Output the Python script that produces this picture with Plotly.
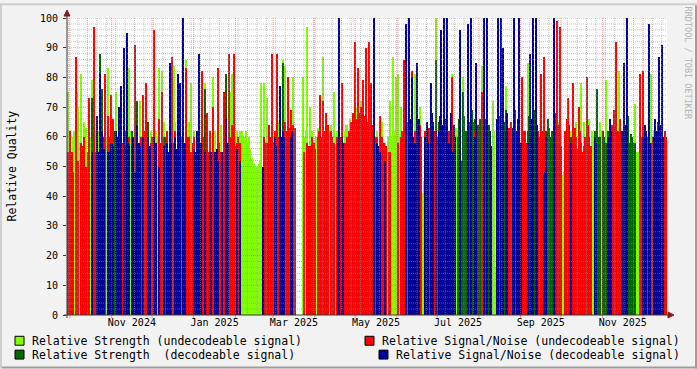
import pandas as pd
import plotly.graph_objects as go

# ---------------- data (daily values) ----------------
START = pd.Timestamp("2024-09-28 19:00")
END = pd.Timestamp("2025-12-18 21:00")
BIN_DAYS = 1

strength_undec = [
    75, 60, 48, 0, 60, 62, 0, 75, 70, 58, 81, 0, 65, 62, 63, 0, 64, 60, 79, 62,
    0, 62, 0, 62, 0, 0, 76, 0, 0, 60, 83, 0, 0, 0, 0, 0, 75, 0, 0, 0,
    0, 0, 0, 0, 67, 0, 83, 62, 0, 0, 0, 0, 0, 0, 72, 0, 0, 0, 62, 62,
    0, 0, 62, 0, 0, 0, 62, 60, 83, 0, 82, 0, 65, 0, 0, 0, 0, 0, 0, 84,
    65, 0, 0, 0, 67, 0, 0, 0, 86, 0, 65, 62, 78, 0, 62, 0, 0, 0, 64, 0,
    64, 0, 78, 60, 60, 0, 58, 0, 80, 62, 62, 0, 0, 0, 64, 0, 66, 0, 0, 0,
    0, 75, 81, 0, 0, 60, 62, 0, 62, 62, 62, 60, 60, 62, 58, 60, 56, 53, 50, 51,
    50, 50, 51, 52, 78, 0, 78, 0, 73, 0, 62, 0, 0, 60, 0, 0, 0, 65, 0, 0,
    86, 0, 84, 0, 66, 0, 0, 0, 80, 0, 0, 0, 0, 0, 0, 80, 60, 62, 97, 0,
    70, 60, 62, 0, 58, 60, 63, 0, 62, 0, 87, 0, 62, 0, 60, 62, 64, 0, 75, 60,
    62, 0, 0, 0, 0, 0, 62, 64, 64, 0, 66, 0, 68, 0, 0, 70, 80, 0, 72, 0,
    65, 0, 0, 66, 0, 70, 66, 0, 0, 0, 62, 0, 0, 0, 65, 0, 58, 0, 60, 58,
    72, 60, 87, 62, 80, 60, 81, 60, 70, 0, 65, 0, 0, 0, 0, 0, 0, 0, 81, 0,
    0, 0, 70, 0, 41, 45, 0, 0, 0, 0, 0, 0, 0, 0, 100, 0, 0, 0, 0, 0,
    0, 0, 0, 0, 60, 0, 81, 0, 62, 63, 62, 0, 0, 0, 80, 0, 0, 0, 0, 0,
    0, 0, 0, 0, 0, 0, 58, 0, 84, 0, 0, 0, 0, 0, 0, 0, 72, 62, 16, 0,
    0, 0, 0, 0, 0, 0, 77, 0, 60, 0, 0, 0, 0, 0, 0, 0, 0, 0, 80, 0,
    60, 0, 85, 0, 0, 0, 0, 0, 0, 0, 60, 0, 62, 0, 0, 0, 0, 0, 60, 0,
    0, 0, 0, 0, 0, 65, 0, 62, 47, 48, 60, 0, 0, 0, 62, 0, 62, 0, 65, 0,
    65, 0, 78, 0, 65, 0, 62, 0, 66, 0, 62, 60, 0, 0, 74, 0, 65, 62, 60, 0,
    79, 60, 0, 0, 0, 0, 62, 0, 0, 60, 82, 0, 0, 0, 0, 0, 0, 0, 0, 0,
    55, 0, 71, 55, 55, 52, 52, 0, 0, 0, 0, 0, 0, 0, 81, 0, 62, 0, 0, 0,
    79, 0, 0, 0, 55, 0,
]

strength_dec = [
    0, 0, 0, 0, 0, 0, 0, 0, 0, 0, 0, 0, 0, 0, 0, 0, 0, 0, 73, 60,
    0, 0, 60, 0, 88, 60, 76, 60, 0, 0, 0, 0, 0, 0, 60, 62, 60, 0, 62, 58,
    0, 0, 60, 62, 72, 60, 0, 0, 62, 0, 0, 0, 72, 0, 0, 0, 0, 0, 0, 0,
    65, 0, 0, 0, 0, 0, 0, 0, 0, 0, 0, 0, 60, 60, 0, 0, 83, 0, 0, 0,
    0, 0, 66, 0, 0, 0, 65, 0, 0, 0, 0, 0, 0, 0, 0, 0, 60, 0, 0, 0,
    0, 0, 76, 0, 0, 0, 0, 0, 0, 0, 0, 0, 0, 0, 0, 0, 0, 0, 81, 0,
    0, 0, 0, 0, 0, 0, 0, 0, 0, 0, 0, 0, 0, 0, 0, 0, 0, 0, 0, 0,
    0, 0, 0, 0, 0, 0, 0, 0, 0, 0, 0, 0, 0, 0, 0, 0, 0, 0, 62, 0,
    85, 0, 0, 0, 0, 0, 0, 0, 0, 0, 0, 0, 0, 0, 0, 0, 0, 0, 0, 0,
    0, 0, 0, 0, 0, 0, 0, 0, 0, 0, 0, 0, 0, 0, 0, 0, 0, 0, 0, 0,
    0, 0, 0, 0, 0, 0, 0, 0, 0, 0, 0, 0, 0, 0, 0, 0, 0, 0, 0, 0,
    0, 0, 0, 0, 0, 0, 0, 0, 0, 0, 0, 0, 0, 0, 0, 0, 0, 0, 0, 0,
    0, 0, 0, 0, 0, 0, 0, 0, 0, 0, 0, 0, 0, 0, 70, 0, 0, 0, 0, 0,
    65, 0, 0, 0, 0, 0, 0, 0, 0, 0, 0, 0, 0, 0, 86, 60, 65, 0, 0, 0,
    70, 0, 0, 0, 0, 0, 0, 0, 0, 0, 60, 66, 50, 52, 75, 67, 62, 58, 70, 65,
    84, 69, 65, 66, 0, 64, 62, 66, 65, 70, 65, 66, 60, 64, 58, 0, 0, 0, 0, 0,
    82, 67, 70, 64, 65, 65, 69, 0, 0, 0, 0, 0, 65, 69, 62, 0, 0, 0, 0, 0,
    0, 0, 62, 67, 63, 0, 65, 69, 62, 0, 0, 0, 0, 0, 0, 0, 62, 66, 63, 60,
    62, 62, 60, 68, 0, 0, 0, 0, 0, 0, 0, 0, 60, 64, 60, 58, 0, 0, 0, 0,
    0, 0, 0, 0, 0, 0, 0, 0, 0, 0, 0, 0, 62, 0, 76, 60, 60, 0, 62, 60,
    58, 0, 62, 0, 0, 0, 0, 0, 0, 0, 0, 0, 0, 0, 62, 0, 65, 67, 58, 61,
    60, 58, 58, 0, 0, 0, 0, 0, 0, 0, 0, 0, 0, 0, 0, 0, 0, 0, 60, 65,
    83, 0, 65, 0, 0, 0,
]

snr_undec = [
    55, 0, 62, 55, 48, 0, 87, 52, 52, 0, 58, 57, 60, 0, 50, 55, 73, 0, 0, 0,
    97, 55, 0, 0, 0, 0, 0, 0, 81, 0, 67, 60, 74, 0, 66, 0, 0, 0, 0, 0,
    55, 58, 0, 0, 0, 0, 60, 0, 50, 0, 91, 60, 55, 0, 52, 60, 74, 62, 78, 0,
    55, 0, 58, 60, 96, 0, 0, 0, 66, 58, 75, 60, 0, 0, 62, 0, 0, 0, 87, 58,
    62, 0, 0, 0, 63, 60, 0, 0, 83, 60, 60, 0, 55, 58, 60, 0, 0, 57, 0, 0,
    82, 60, 0, 0, 68, 55, 62, 0, 70, 0, 50, 0, 83, 58, 55, 0, 75, 60, 60, 0,
    88, 60, 64, 60, 88, 57, 58, 60, 58, 0, 0, 0, 0, 0, 0, 0, 0, 0, 0, 0,
    0, 0, 0, 0, 0, 0, 60, 58, 58, 57, 64, 60, 88, 58, 62, 0, 88, 60, 0, 0,
    0, 0, 65, 62, 80, 63, 69, 0, 64, 63, 0, 0, 0, 0, 0, 0, 55, 0, 58, 57,
    57, 0, 60, 58, 56, 0, 60, 62, 74, 60, 72, 62, 68, 60, 64, 0, 62, 60, 58, 0,
    60, 0, 0, 60, 78, 0, 58, 0, 60, 62, 62, 65, 68, 66, 92, 66, 83, 68, 70, 66,
    79, 67, 90, 65, 92, 66, 78, 64, 62, 60, 60, 0, 67, 60, 60, 58, 56, 57, 0, 55,
    55, 0, 0, 0, 0, 0, 58, 0, 60, 62, 86, 63, 88, 65, 0, 0, 82, 0, 62, 60,
    0, 0, 64, 60, 0, 0, 62, 0, 62, 63, 70, 0, 60, 62, 0, 0, 0, 0, 64, 0,
    0, 0, 80, 62, 62, 0, 80, 0, 0, 0, 0, 0, 0, 0, 0, 0, 0, 0, 0, 0,
    0, 0, 62, 0, 81, 0, 0, 0, 75, 0, 0, 0, 0, 0, 0, 0, 0, 0, 0, 0,
    0, 0, 0, 0, 0, 0, 0, 0, 63, 62, 65, 0, 0, 0, 0, 0, 60, 0, 80, 62,
    62, 58, 0, 0, 0, 0, 0, 0, 0, 0, 62, 60, 81, 62, 87, 0, 0, 0, 0, 0,
    0, 0, 0, 0, 99, 64, 97, 57, 0, 0, 62, 66, 73, 0, 0, 0, 78, 63, 60, 56,
    70, 62, 58, 55, 57, 60, 80, 64, 60, 57, 0, 0, 0, 0, 0, 0, 0, 0, 0, 0,
    0, 0, 0, 0, 60, 64, 69, 58, 92, 62, 60, 66, 47, 0, 0, 0, 0, 0, 0, 0,
    0, 0, 0, 0, 0, 0, 81, 60, 82, 0, 58, 60, 60, 0, 58, 60, 0, 0, 0, 0,
    0, 0, 0, 0, 62, 60,
]

snr_dec = [
    0, 0, 0, 0, 0, 0, 0, 0, 0, 0, 0, 0, 0, 0, 0, 0, 0, 0, 55, 0,
    0, 0, 67, 55, 81, 57, 62, 56, 0, 0, 55, 55, 58, 58, 57, 0, 62, 60, 70, 56,
    77, 0, 90, 57, 95, 58, 57, 0, 57, 60, 48, 0, 64, 58, 57, 0, 60, 0, 0, 0,
    60, 57, 0, 0, 60, 56, 58, 0, 50, 0, 0, 0, 57, 0, 58, 55, 85, 58, 0, 0,
    60, 56, 81, 57, 78, 0, 100, 58, 0, 0, 0, 0, 0, 0, 56, 55, 62, 0, 88, 58,
    0, 0, 55, 0, 0, 0, 55, 55, 0, 0, 55, 56, 52, 0, 0, 55, 0, 0, 66, 58,
    0, 0, 0, 0, 0, 0, 56, 0, 52, 0, 0, 0, 0, 0, 0, 0, 0, 0, 0, 0,
    0, 0, 0, 0, 0, 50, 0, 0, 0, 0, 0, 0, 0, 0, 60, 57, 0, 0, 77, 60,
    62, 60, 0, 0, 0, 0, 60, 62, 0, 0, 0, 0, 0, 0, 0, 0, 0, 0, 0, 0,
    0, 0, 0, 0, 0, 0, 0, 0, 0, 0, 0, 0, 0, 0, 0, 0, 0, 0, 0, 0,
    0, 58, 100, 0, 60, 58, 0, 0, 0, 0, 0, 0, 0, 0, 0, 0, 0, 0, 0, 0,
    0, 0, 0, 0, 0, 0, 0, 0, 100, 0, 58, 57, 55, 0, 0, 0, 52, 0, 0, 0,
    0, 0, 0, 0, 0, 0, 0, 0, 0, 0, 0, 0, 98, 0, 100, 66, 80, 60, 58, 0,
    85, 66, 0, 0, 0, 0, 60, 65, 58, 0, 78, 68, 65, 0, 62, 0, 62, 67, 96, 64,
    100, 66, 100, 0, 58, 68, 55, 64, 60, 0, 0, 0, 96, 0, 0, 0, 0, 0, 98, 0,
    100, 0, 60, 0, 85, 0, 0, 0, 0, 0, 100, 0, 100, 0, 62, 57, 0, 0, 0, 66,
    100, 0, 100, 0, 90, 0, 62, 68, 0, 0, 0, 63, 100, 0, 62, 66, 100, 58, 0, 0,
    0, 0, 58, 0, 88, 66, 100, 0, 100, 64, 0, 0, 0, 0, 47, 48, 60, 0, 0, 0,
    0, 0, 100, 0, 0, 0, 0, 0, 0, 0, 0, 0, 0, 0, 58, 0, 0, 0, 0, 0,
    0, 0, 0, 0, 0, 0, 0, 0, 0, 0, 0, 0, 60, 58, 0, 0, 0, 0, 0, 0,
    0, 0, 60, 66, 62, 0, 0, 0, 0, 0, 0, 0, 62, 50, 85, 64, 100, 0, 0, 0,
    0, 0, 0, 0, 0, 0, 0, 0, 60, 64, 62, 0, 98, 58, 0, 0, 60, 66, 62, 0,
    87, 64, 91, 60, 0, 0,
]

series_names = [
    "Relative Strength (undecodeable signal)",
    "Relative Strength\u00a0 (decodeable signal)",
    "Relative Signal/Noise (undecodeable signal)",
    "Relative Signal/Noise (decodeable signal)",
]
month_labels = ["Nov 2024", "Jan 2025", "Mar 2025", "May 2025",
                "Jul 2025", "Sep 2025", "Nov 2025"]
y_ticks = [0, 10, 20, 30, 40, 50, 60, 70, 80, 90, 100]

all_series = [strength_undec, strength_dec, snr_undec, snr_dec]
assert len({len(s) for s in all_series}) == 1, [len(s) for s in all_series]

# ---------------- styling ----------------
W, H = 697, 369
PL, PR, PT, PB = 67, 667, 15, 315
FONT = "DejaVu Sans Mono"
COLORS = ["#80FF00", "#006600", "#FF0000", "#000099"]
BG = "#F2F2F2"
GRID = "rgba(143,143,143,0.55)"
MGRID = "rgba(222,79,79,0.55)"
ARROW = "#801F1F"
AXIS = "#3a3a3a"


def X(px):
    return (px - PL) / (PR - PL)


def Y(py):
    return (PB - py) / (PB - PT)


n = len(strength_undec)
bin_td = pd.Timedelta(days=BIN_DAYS)
xs = [START + bin_td * (i + 0.5) for i in range(n)]
width_ms = bin_td.total_seconds() * 1000

fig = go.Figure()
for name, vals, col in zip(series_names, all_series, COLORS):
    fig.add_bar(x=xs, y=vals, width=width_ms, name=name, showlegend=False,
                marker=dict(color=col, line=dict(width=0)))

# label centres: middle of each labelled month
label_pos = []
for lab in month_labels:
    ms = pd.Timestamp("1 " + lab)
    nxt = ms + pd.offsets.MonthBegin(1)
    label_pos.append(ms + (nxt - ms) / 2)

shapes = []
# horizontal grid
for v in range(2, 100, 2):
    if v % 10 == 0:
        continue
    shapes.append(dict(type="line", xref="paper", yref="y", x0=0, x1=1, y0=v, y1=v,
                       line=dict(color=GRID, width=1, dash="1px,1px"), layer="above"))
for v in range(10, 101, 10):
    shapes.append(dict(type="line", xref="paper", yref="y", x0=0, x1=1, y0=v, y1=v,
                       line=dict(color=MGRID, width=1, dash="1px,1px"), layer="above"))
# vertical grid: weeks (minor) and months (major)
month_starts = pd.date_range("2024-10-01", END, freq="MS")
for d in pd.date_range(START.normalize(), END, freq="W-MON"):
    if d < START or d in month_starts:
        continue
    shapes.append(dict(type="line", xref="x", yref="paper", x0=d, x1=d, y0=0, y1=1,
                       line=dict(color=GRID, width=1, dash="1px,1px"), layer="above"))
for d in month_starts:
    shapes.append(dict(type="line", xref="x", yref="paper", x0=d, x1=d, y0=0, y1=1,
                       line=dict(color=MGRID, width=1, dash="1px,1px"), layer="above"))
    shapes.append(dict(type="line", xref="x", yref="paper", x0=d, x1=d, y0=Y(315), y1=Y(318.5),
                       line=dict(color=MGRID, width=1), layer="above"))
# axes + arrows
shapes.append(dict(type="line", xref="paper", yref="paper", x0=X(64), x1=X(670), y0=0, y1=0,
                   line=dict(color=AXIS, width=1), layer="above"))
shapes.append(dict(type="line", xref="paper", yref="paper", x0=0, x1=0, y0=Y(318), y1=Y(11),
                   line=dict(color=AXIS, width=1), layer="above"))
shapes.append(dict(type="path", xref="paper", yref="paper",
                   path=f"M {X(668)},{Y(312)} L {X(674)},{Y(315)} L {X(668)},{Y(318)} Z",
                   fillcolor=ARROW, line=dict(color=ARROW, width=1), layer="above"))
shapes.append(dict(type="path", xref="paper", yref="paper",
                   path=f"M {X(64)},{Y(13)} L {X(67)},{Y(7)} L {X(70)},{Y(13)} Z",
                   fillcolor=ARROW, line=dict(color=ARROW, width=1), layer="above"))
# frame shades
shapes.append(dict(type="rect", xref="paper", yref="paper", x0=X(0), x1=X(W), y0=Y(0), y1=Y(2),
                   fillcolor="#CFCFCF", line=dict(width=0), layer="above"))
shapes.append(dict(type="rect", xref="paper", yref="paper", x0=X(0), x1=X(2), y0=Y(0), y1=Y(H),
                   fillcolor="#CFCFCF", line=dict(width=0), layer="above"))
shapes.append(dict(type="rect", xref="paper", yref="paper", x0=X(2), x1=X(W), y0=Y(H - 2), y1=Y(H),
                   fillcolor="#9E9E9E", line=dict(width=0), layer="above"))
shapes.append(dict(type="rect", xref="paper", yref="paper", x0=X(W - 2), x1=X(W), y0=Y(2), y1=Y(H),
                   fillcolor="#9E9E9E", line=dict(width=0), layer="above"))

# legend (drawn rrdtool-style)
annotations = []
legend_pos = [(15, 341, 30), (15, 355, 30), (365, 341, 380), (379, 355, 394)]
for k, (bx, cy, tx) in enumerate(legend_pos):
    shapes.append(dict(type="rect", xref="paper", yref="paper",
                       x0=X(bx), x1=X(bx + 9), y0=Y(cy - 4.5), y1=Y(cy + 4.5),
                       fillcolor=COLORS[k], line=dict(color="black", width=1), layer="above"))
    annotations.append(dict(xref="paper", yref="paper", x=X(tx), y=Y(cy), xanchor="left",
                            yanchor="middle", text=series_names[k], showarrow=False,
                            font=dict(family=FONT, size=11.5, color="black")))

annotations.append(dict(xref="paper", yref="paper", x=X(11), y=Y(165), text="Relative Quality",
                        textangle=-90, showarrow=False, xanchor="center", yanchor="middle",
                        font=dict(family=FONT, size=11.5, color="black")))
annotations.append(dict(xref="paper", yref="paper", x=X(688), y=Y(60), text="RRDTOOL / TOBI OETIKER",
                        textangle=90, showarrow=False, xanchor="center", yanchor="middle",
                        font=dict(family=FONT, size=8.5, color="#B4B4B4")))

fig.update_layout(
    width=W, height=H, autosize=False,
    margin=dict(l=PL, r=W - PR, t=PT, b=H - PB, pad=0),
    paper_bgcolor=BG, plot_bgcolor="white",
    barmode="overlay", bargap=0,
    showlegend=False,
    shapes=shapes, annotations=annotations,
    font=dict(family=FONT, size=10, color="black"),
    xaxis=dict(type="date", range=[START, END], tickmode="array", tickvals=label_pos,
               ticktext=month_labels, showgrid=False, zeroline=False, showline=False,
               ticks="", tickfont=dict(family=FONT, size=10, color="black"), fixedrange=True),
    yaxis=dict(range=[0, 100], tickmode="array", tickvals=y_ticks, showgrid=False,
               zeroline=False, showline=False, ticks="outside", ticklen=3, tickcolor=AXIS,
               ticklabelstandoff=3,
               tickfont=dict(family=FONT, size=10, color="black"), fixedrange=True),
)

fig.write_html("out.html", config={"displayModeBar": False},
               post_script="document.body.style.margin='0px';document.body.style.overflow='hidden';")
